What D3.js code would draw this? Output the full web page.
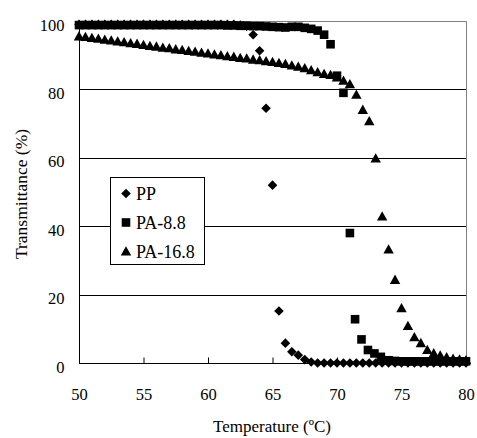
<!DOCTYPE html>
<html>
<head>
<meta charset="utf-8">
<script src="https://cdn.jsdelivr.net/npm/d3@7"></script>
<style>
  body { margin: 0; background: #fff; }
  svg text { font-family: "Liberation Serif", "Times New Roman", serif; fill: #000; }
</style>
</head>
<body>
<svg id="chart" width="477" height="438"></svg>
<script>
// data
var ppTemp = [50,50.5,51,51.5,52,52.5,53,53.5,54,54.5,55,55.5,56,56.5,57,57.5,58,58.5,59,59.5,60,60.5,61,61.5,62,62.5,63,63.5,64,64.5,65,65.5,66,66.5,67,67.5,68,68.5,69,69.5,70,70.5,71,71.5,72,72.5,73,73.5,74,74.5,75,75.5,76,76.5,77,77.5,78,78.5,79,79.5,80];
var ppVal = [99,99,99,99,99,99,99,99,99,99,99,99,99,99,99,99,99,99,99,99,99,99,99,99,99,98.8,98.5,96,91.3,74.5,52,15.2,5.8,3.3,2.3,1,0.3,0,0,0,0,0,0,0,0,0,0,0,0,0,0,0,0,0,0,0,0,0,0,0,0];

var pa88Temp = [50,50.5,51,51.5,52,52.5,53,53.5,54,54.5,55,55.5,56,56.5,57,57.5,58,58.5,59,59.5,60,60.5,61,61.5,62,62.5,63,63.5,64,64.5,65,65.5,66,66.5,67,67.5,68,68.5,69,69.5,70,70.5,71,71.4,71.9,72.4,72.9,73.4,74,74.5,75,75.5,76,76.5,77,77.5,78,78.5,79,79.5,80];
var pa88Val = [98.8,98.8,98.8,98.8,98.8,98.8,98.8,98.8,98.8,98.8,98.8,98.8,98.8,98.8,98.8,98.8,98.8,98.8,98.8,98.8,98.8,98.8,98.8,98.7,98.7,98.6,98.6,98.5,98.5,98.4,98.3,98.2,98.1,98.3,98.3,98,97.7,97.2,96,93.2,84,79,38,12.8,6.9,3.8,2.8,1.8,0.8,0.6,0.5,0.5,0.5,0.5,0.5,0.5,0.5,0.5,0.5,0.5,0.5];

var pa168Temp = [50,50.5,51,51.5,52,52.5,53,53.5,54,54.5,55,55.5,56,56.5,57,57.5,58,58.5,59,59.5,60,60.5,61,61.5,62,62.5,63,63.5,64,64.5,65,65.5,66,66.5,67,67.5,68,68.5,69,69.5,70,70.5,71,71.5,72,72.5,73,73.5,74,74.5,75,75.5,76,76.5,77,77.5,78,78.5,79,79.5,80];
var pa168Val = [95.5,95.3,95,94.8,94.5,94.3,94,93.8,93.5,93.3,93,92.7,92.5,92.2,92,91.7,91.5,91.2,91,90.7,90.5,90.2,90,89.7,89.5,89.2,89,88.7,88.5,88.2,88,87.7,87.4,87,86.6,86.2,85.6,85,84.5,84.2,83.5,82.5,81.5,78.4,74,70.7,59.8,42.8,33.2,24.3,16,10.8,7.5,5.8,3.8,2.8,2.2,1.7,1.2,1,0.8];

var seriesNames = ["PP", "PA-8.8", "PA-16.8"];
var xTicks = [50,55,60,65,70,75,80];
var yTicks = [0,20,40,60,80,100];

var svg = d3.select("#chart");
var plotLeft = 79, plotRight = 466, plotTop = 21, plotBottom = 363;

var x = d3.scaleLinear().domain([50, 80]).range([plotLeft, plotRight]);
var y = d3.scaleLinear().domain([0, 100]).range([plotBottom, plotTop]);

//gridlines
svg.append("g").selectAll("line")
	.data(yTicks.filter(function (d) { return d > 0 && d < 100; }))
	.enter().append("line")
	.attr("x1", plotLeft).attr("x2", plotRight)
	.attr("y1", function (d) { return Math.round(y(d)) + 0.5; })
	.attr("y2", function (d) { return Math.round(y(d)) + 0.5; })
	.style("stroke", "#000").style("stroke-width", 1);

//plot border (top + right gray)
svg.append("path")
	.attr("d", "M" + plotLeft + "," + (plotTop + 0.5) + "H" + (plotRight + 0.5) + "V" + plotBottom)
	.style("fill", "none").style("stroke", "#808080").style("stroke-width", 1);

//x axis, ticks inside
var xAxis = d3.axisBottom(x).tickValues(xTicks).tickSizeInner(-6).tickSizeOuter(0).tickPadding(25);
var gx = svg.append("g").attr("transform", "translate(0," + (plotBottom + 0.5) + ")").call(xAxis);
gx.select(".domain").attr("d", "M" + plotLeft + ",0H" + (plotRight + 0.5)).style("stroke", "#000");
gx.selectAll(".tick line").style("stroke", "#000");
gx.selectAll("text").style("font-size", "16.5px").style("font-family", "Liberation Serif").attr("dy", "0.71em");

//y axis
var yAxis = d3.axisLeft(y).tickValues(yTicks).tickSize(0).tickPadding(15);
var gy = svg.append("g").attr("transform", "translate(" + (plotLeft + 0.5) + ",0)").call(yAxis);
gy.select(".domain").attr("d", "M0," + plotTop + "V" + (plotBottom + 0.5)).style("stroke", "#000");
gy.selectAll("text").style("font-size", "16.5px").style("font-family", "Liberation Serif").attr("dy", "0.55em");

//axis titles
svg.append("text")
	.attr("x", 272).attr("y", 432)
	.attr("text-anchor", "middle")
	.style("font-size", "17px")
	.text("Temperature (ºC)");

svg.append("text")
	.attr("transform", "translate(27,194) rotate(-90)")
	.attr("text-anchor", "middle")
	.style("font-size", "17.5px")
	.text("Transmittance (%)");

//marker shapes
var diamondSym = { draw: function (ctx, size) { var r = 4.8; ctx.moveTo(0, -r); ctx.lineTo(r, 0); ctx.lineTo(0, r); ctx.lineTo(-r, 0); ctx.closePath(); } };
var squareSym = { draw: function (ctx, size) { var h = 4.3; ctx.rect(-h, -h, 2 * h, 2 * h); } };
var triSym = { draw: function (ctx, size) { ctx.moveTo(0, -5.3); ctx.lineTo(5.2, 4); ctx.lineTo(-5.2, 4); ctx.closePath(); } };
var symbols = [diamondSym, squareSym, triSym];

function drawSeries(temps, vals, sym) {
	var pts = temps.map(function (t, i) { return [t, vals[i]]; });
	svg.append("g").selectAll("path")
		.data(pts)
		.enter().append("path")
		.attr("d", d3.symbol().type(sym))
		.attr("transform", function (d) { return "translate(" + x(d[0]) + "," + y(d[1]) + ")"; })
		.style("fill", "#000");
}

drawSeries(pa168Temp, pa168Val, triSym);
drawSeries(pa88Temp, pa88Val, squareSym);
drawSeries(ppTemp, ppVal, diamondSym);

//legend
var lg = svg.append("g");
lg.append("rect")
	.attr("x", 110.5).attr("y", 177.5).attr("width", 94).attr("height", 87)
	.style("fill", "#fff").style("stroke", "#000").style("stroke-width", 1);

seriesNames.forEach(function (name, i) {
	var cy = 193.5 + i * 29;
	lg.append("path")
		.attr("d", d3.symbol().type(symbols[i]))
		.attr("transform", "translate(126," + cy + ")")
		.style("fill", "#000");
	lg.append("text")
		.attr("x", 136).attr("y", cy + 6.5)
		.style("font-size", "18px")
		.text(name);
});
</script>
</body>
</html>
